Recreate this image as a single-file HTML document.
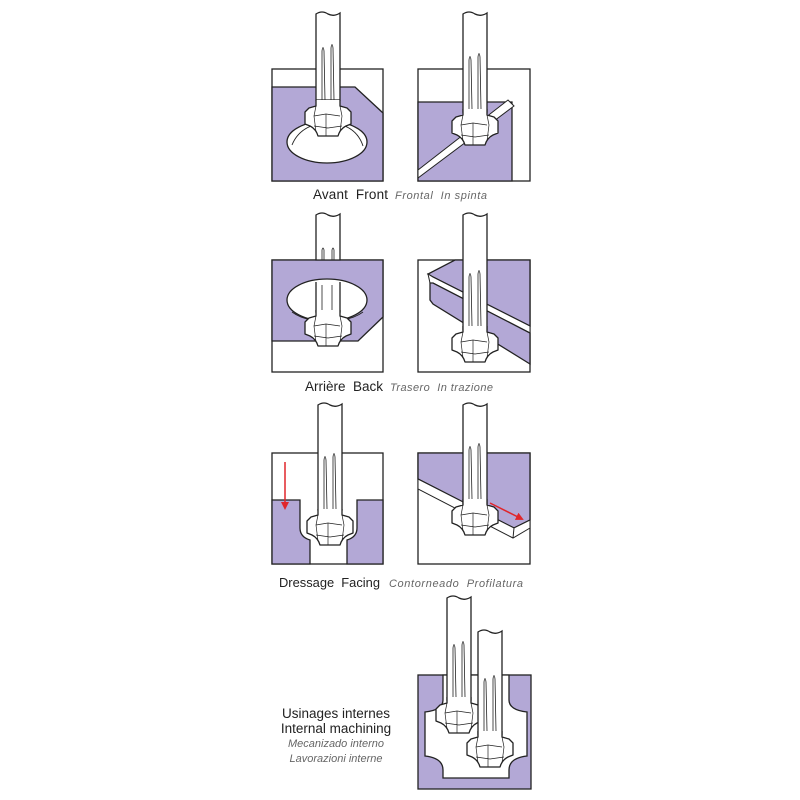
<!DOCTYPE html>
<html><head><meta charset="utf-8"><style>
html,body{margin:0;padding:0;background:#fff;width:800px;height:800px;overflow:hidden}
svg{display:block}
.t{font-family:"Liberation Sans",sans-serif;fill:#222}
.i{font-family:"Liberation Sans",sans-serif;font-style:italic;fill:#666}
</style></head><body>
<svg width="800" height="800" viewBox="0 0 800 800" xmlns="http://www.w3.org/2000/svg">
<defs>
<g id="head" stroke="#222" stroke-width="1.3" fill="#fff" stroke-linejoin="round">
 <path d="M-12,-36 L-12,-30 L-19,-28 L-23,-24 L-23,-12 L-18,-10 Q-12,-7 -10,0 L10,0 Q12,-7 18,-10 L23,-12 L23,-24 L19,-28 L12,-30 L12,-36"/>
 <path d="M-12,-30 L-14,-20 L-12,-4 M12,-30 L14,-20 L12,-4 M-14,-20 L-2,-22 L12,-20 M-2,-22 L-2,0 M-14,-10 L0,-8 L14,-10" fill="none" stroke-width="0.7"/>
</g>
<g id="grooves" stroke="#222" stroke-width="0.8" fill="none">
 <path d="M-6,-36 L-6,-85 Q-5,-92 -4,-85 L-3,-36"/>
 <path d="M3,-36 L3,-88 Q4,-95 5,-88 L6,-36"/>
</g>
<marker id="ar" markerWidth="8" markerHeight="8" refX="6" refY="4" orient="auto" markerUnits="userSpaceOnUse"><path d="M0,0 L8,4 L0,8 z" fill="#e0262b"/></marker>
</defs>

<g stroke="#222" stroke-width="1.3">
<rect x="272" y="69" width="111" height="112" fill="#fff"/>
<path d="M272,87 L355,87 L383,113 L383,181 L272,181 Z" fill="#b3a8d6"/>
<ellipse cx="327" cy="142" rx="40" ry="21" fill="#fff"/>
<path d="M292,145 Q300,125 327,122 Q356,124 363,146" fill="none" stroke-width="0.9"/>
<path d="M316,14 Q322,10 328,14 Q334,17 340,13 L340,100 L316,100 Z" fill="#fff"/>
<use href="#grooves" x="328" y="136"/>
<use href="#head" x="328" y="136"/>

<rect x="418" y="69" width="112" height="112" fill="#fff"/>
<path d="M418,102 L512,102 L512,181 L418,181 Z" fill="#b3a8d6"/>
<path d="M418,170 L508,100 L514,106 L418,178 Z" fill="#fff" stroke-width="1"/>
<path d="M463,14 Q469,10 475,14 Q481,17 487,13 L487,112 L463,112 Z" fill="#fff"/>
<use href="#grooves" x="475" y="145"/>
<use href="#head" x="475" y="145"/>

<rect x="272" y="260" width="111" height="112" fill="#fff"/>
<path d="M272,260 L383,260 L383,317 L358,341 L272,341 Z" fill="#b3a8d6"/>
<ellipse cx="327" cy="300" rx="40" ry="21" fill="#fff"/>
<path d="M292,312 Q300,318 312,320 M342,320 Q355,318 363,312" fill="none" stroke-width="0.9"/>
<path d="M316,215 Q322,211 328,215 Q334,218 340,214 L340,260 L316,260 Z" fill="#fff"/>
<path d="M316,282 L316,312 L340,312 L340,282" fill="#fff"/>
<path d="M322,260 L322,250 Q323,246 324,250 L324,260 M332,260 L332,250 Q333,246 334,250 L334,260 M322,285 L322,310 M332,285 L332,310" fill="none" stroke-width="0.8"/>
<use href="#head" x="328" y="346"/>

<rect x="418" y="260" width="112" height="112" fill="#fff"/>
<path d="M455,260 L530,260 L530,326 L433,277 L428,274 Z" fill="#b3a8d6"/>
<path d="M428,274 L433,277 L530,326 L530,333 L433,283 L430,283 Z" fill="#fff" stroke-width="1"/>
<path d="M430,283 L433,283 L530,333 L530,364 L433,304 L430,300 Z" fill="#b3a8d6"/>
<path d="M463,215 Q469,211 475,215 Q481,218 487,214 L487,330 L463,330 Z" fill="#fff"/>
<use href="#grooves" x="475" y="362"/>
<use href="#head" x="475" y="362"/>

<rect x="272" y="453" width="111" height="111" fill="#fff"/>
<path d="M272,500 L300,500 L300,528 Q300,537 310,540 L310,564 L272,564 Z" fill="#b3a8d6"/>
<path d="M383,500 L357,500 L357,528 Q357,537 347,540 L347,564 L383,564 Z" fill="#b3a8d6"/>
<path d="M318,405 Q324,401 330,405 Q336,408 342,404 L342,510 L318,510 Z" fill="#fff"/>
<use href="#grooves" x="330" y="545"/>
<use href="#head" x="330" y="545"/>

<rect x="418" y="453" width="112" height="111" fill="#fff"/>
<path d="M418,453 L530,453 L530,520 L514,528 L418,479 Z" fill="#b3a8d6"/>
<path d="M418,479 L514,528 L530,520 L530,528 L513,538 L418,489 Z" fill="#fff" stroke-width="1"/>
<path d="M514,528 L513,538" stroke-width="1"/>
<path d="M463,405 Q469,401 475,405 Q481,408 487,404 L487,505 L463,505 Z" fill="#fff"/>
<use href="#grooves" x="475" y="535"/>
<use href="#head" x="475" y="535"/>

<rect x="418" y="675" width="113" height="114" fill="#b3a8d6"/>
<path d="M443,675 L443,700 Q443,710 425,712 L425,756 Q443,758 443,770 L443,778 L509,778 L509,770 Q509,758 527,756 L527,712 Q509,710 509,700 L509,675 Z" fill="#fff"/>
<path d="M447,598 Q453,594 459,598 Q465,601 471,597 L471,700 L447,700 Z" fill="#fff"/>
<use href="#grooves" x="459" y="733"/>
<use href="#head" x="459" y="733"/>
<path d="M478,632 Q484,628 490,632 Q496,635 502,631 L502,735 L478,735 Z" fill="#fff"/>
<use href="#grooves" x="490" y="767"/>
<use href="#head" x="490" y="767"/>
</g>

<line x1="285" y1="462" x2="285" y2="508" stroke="#e0262b" stroke-width="1.5" marker-end="url(#ar)"/>
<line x1="490" y1="503" x2="522" y2="519" stroke="#e0262b" stroke-width="1.5" marker-end="url(#ar)"/>

<text x="313" y="199" class="t" font-size="13.5" textLength="75" lengthAdjust="spacing">Avant&#160;&#160;Front</text>
<text x="395" y="199" class="i" font-size="11" textLength="92" lengthAdjust="spacing">Frontal&#160;&#160;In spinta</text>
<text x="305" y="391" class="t" font-size="13.5" textLength="78" lengthAdjust="spacing">Arrière&#160;&#160;Back</text>
<text x="390" y="391" class="i" font-size="11" textLength="103" lengthAdjust="spacing">Trasero&#160;&#160;In trazione</text>
<text x="279" y="587" class="t" font-size="13" textLength="101" lengthAdjust="spacingAndGlyphs">Dressage&#160;&#160;Facing</text>
<text x="389" y="587" class="i" font-size="11" textLength="134" lengthAdjust="spacing">Contorneado&#160;&#160;Profilatura</text>
<text x="336" y="718" class="t" font-size="13.5" text-anchor="middle">Usinages internes</text>
<text x="336" y="733" class="t" font-size="13.5" text-anchor="middle">Internal machining</text>
<text x="336" y="747" class="i" font-size="11" text-anchor="middle">Mecanizado interno</text>
<text x="336" y="762" class="i" font-size="11" text-anchor="middle">Lavorazioni interne</text>
</svg>
</body></html>
